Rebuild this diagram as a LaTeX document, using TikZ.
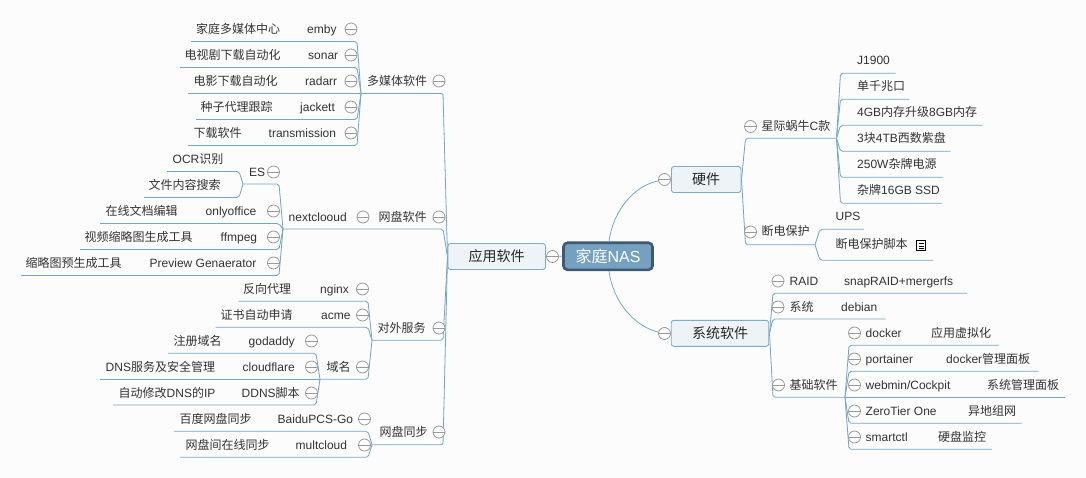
\documentclass[tikz,border=0pt]{standalone}
\usepackage{fontspec}
\setmainfont{Liberation Sans}
\newfontfamily\cjk{Noto Sans CJK SC}
\newcommand{\C}[1]{{\cjk #1}}
\definecolor{bgc}{HTML}{FCFCFC}
\definecolor{linec}{HTML}{74A6C8}
\definecolor{taperc}{HTML}{B4D0E2}
\definecolor{boxfill}{HTML}{EEF3F7}
\definecolor{boxline}{HTML}{7FAAC8}
\definecolor{rootfill}{HTML}{73A1BF}
\definecolor{rootline}{HTML}{3F5A70}
\definecolor{txtc}{HTML}{333333}
\definecolor{foldc}{HTML}{999999}
\usetikzlibrary{calc}
\tikzset{
 branch/.style={draw=linec,line width=0.8pt,rounded corners=2pt},
 taper/.style={fill=taperc,draw=none},
 curvelink/.style={draw=linec,line width=0.8pt},
 lbl/.style={inner sep=0pt,anchor=west,text=txtc,font=\fontsize{12}{12}\selectfont,text height=9pt,text depth=0pt},
 foldmark/.style={circle,draw=foldc,fill=white,line width=0.8pt,minimum size=12pt,inner sep=0pt,
   path picture={\draw[foldc,line width=0.8pt] (path picture bounding box.west) -- (path picture bounding box.east);}},
 mainbox/.style={draw=boxline,fill=boxfill,line width=0.9pt,rounded corners=2.5pt,inner sep=0pt,text=black!85,
   font=\fontsize{14}{14}\selectfont,text height=10.5pt,text depth=0pt,minimum height=26pt},
 rootbox/.style={draw=rootline,fill=rootfill,line width=2.6pt,rounded corners=4pt,inner sep=0pt,text=white,
   font=\fontsize{16}{16}\selectfont,text height=12pt,text depth=0pt,minimum height=27pt,minimum width=89pt},
 noteicon/.style={draw=black,line width=0.7pt,minimum width=8.5pt,minimum height=9.5pt,inner sep=0pt,
   path picture={\foreach \q in {0.3,0.55,0.8}{\draw[black,line width=0.5pt] ($(path picture bounding box.north west)!\q!(path picture bounding box.south west)+(1.8pt,0)$) -- ++(5pt,0);}}},
}
\newcommand{\topic}[5]{\coordinate (#1-far) at (#3,#5); \coordinate (#1-near) at (#4,#5);
 \fill[taper] (#1-near) -- ($(#2)+(0,-1.1)$) -- ($(#2)+(0,1.1)$) -- cycle;
 \draw[branch] (#1-far) -- (#1-near) -- (#2);}
\newcommand{\lab}[4]{\node[lbl] (#1) at (#2,#3) {#4};}
\newcommand{\fold}[3]{\node[foldmark] (#1) at (#2,#3) {};}
\begin{document}
\begin{tikzpicture}[x=1pt,y=-1pt]
\useasboundingbox (0,0) rectangle (1086,478);
\fill[bgc] (0,0) rectangle (1086,478);
% main boxes
\node[rootbox] (root) at (608,256.3) {\C{家庭}NAS};
\node[mainbox,minimum width=97.5pt] (app) at (496.7,256.5) {\C{应用软件}};
\node[mainbox,minimum width=69.5pt] (hw) at (706.2,179.5) {\C{硬件}};
\node[mainbox,minimum width=97.5pt] (sys) at (720,333.3) {\C{系统软件}};
\coordinate (appjoin) at (447.5,256.5);
\coordinate (hwjoin) at (741.5,179.5);
\coordinate (sysjoin) at (769.5,333.3);
\coordinate (hwend) at (659,180.7);
\coordinate (sysend) at (659,332.3);
% root links
\draw[curvelink] (app.east) -- (root.west);
\draw[curvelink] (root.north) ++(1,0) .. controls (613,210) and (635,185) .. (hwend) -- (hw.west);
\draw[curvelink] (root.south) ++(1,0) .. controls (613,302) and (635,327) .. (sysend) -- (sys.west);
% application branches
\topic{mm}{appjoin}{361}{443}{93.5}
\topic{disk}{appjoin}{283}{443}{229}
\topic{ext}{appjoin}{372}{443}{340.3}
\topic{sync}{appjoin}{372}{443}{444.7}
\topic{emby}{mm-far}{191}{357}{41.5}
\topic{sonar}{mm-far}{180}{357}{67.5}
\topic{radarr}{mm-far}{188}{357}{93.5}
\topic{jackett}{mm-far}{196}{357}{119.5}
\topic{trans}{mm-far}{188}{357}{145.5}
\topic{es}{disk-far}{243}{279}{184}
\topic{ocr}{es-far}{167}{239}{171.5}
\topic{search}{es-far}{144}{239}{197.5}
\topic{only}{disk-far}{100}{279}{223.5}
\topic{ff}{disk-far}{80}{279}{249.5}
\topic{prev}{disk-far}{21}{279}{275.5}
\topic{nginx}{ext-far}{238.5}{368}{301.3}
\topic{acme}{ext-far}{215.5}{368}{327.3}
\topic{dom}{ext-far}{320}{368}{379.3}
\topic{god}{dom-far}{168}{316}{353.3}
\topic{cf}{dom-far}{100}{316}{379.3}
\topic{ddns}{dom-far}{113}{316}{405}
\topic{baidu}{sync-far}{174}{368}{431.3}
\topic{mc}{sync-far}{180}{368}{457.3}
% hardware branches
\topic{nas}{hwjoin}{836.5}{745.5}{138.3}
\topic{ups}{hwjoin}{815}{745.5}{244.7}
\topic{j}{nas-far}{895.7}{840.5}{73.3}
\topic{gige}{nas-far}{909}{840.5}{99.3}
\topic{ram}{nas-far}{982.5}{840.5}{125.3}
\topic{hdd}{nas-far}{950.5}{840.5}{151.3}
\topic{psu}{nas-far}{943}{840.5}{177.3}
\topic{ssd}{nas-far}{942}{840.5}{203.3}
\topic{upsa}{ups-far}{864}{820}{229.3}
\topic{upsb}{ups-far}{933}{820}{260.3}
% system branches
\topic{raid}{sysjoin}{967}{773}{293.3}
\topic{os}{sysjoin}{885.5}{773}{319}
\topic{base}{sysjoin}{845}{773}{397.3}
\topic{dock}{base-far}{998.5}{849}{345.3}
\topic{port}{base-far}{1038.5}{849}{371.3}
\topic{web}{base-far}{1065}{849}{397.3}
\topic{zero}{base-far}{1021.5}{849}{423.3}
\topic{smart}{base-far}{992}{849}{449.3}
% labels: multimedia
\lab{t1}{367}{81}{\C{多媒体软件}} \fold{f1}{439}{81}
\lab{t2}{196}{29}{\C{家庭多媒体中心}} \lab{t3}{307}{29}{emby} \fold{f2}{351}{29}
\lab{t4}{184.5}{55}{\C{电视剧下载自动化}} \lab{t5}{308}{55}{sonar} \fold{f3}{351}{55}
\lab{t6}{193.5}{81}{\C{电影下载自动化}} \lab{t7}{305}{81}{radarr} \fold{f4}{351}{81}
\lab{t8}{200.5}{107}{\C{种子代理跟踪}} \lab{t9}{300}{107}{jackett} \fold{f5}{351}{107}
\lab{t10}{193.5}{133}{\C{下载软件}} \lab{t11}{268.5}{133}{transmission} \fold{f6}{351}{133}
% labels: cloud disk
\lab{t12}{378.5}{217}{\C{网盘软件}} \fold{f7}{439}{217}
\lab{t13}{288.5}{217}{nextclooud} \fold{f8}{363}{217}
\lab{t14}{249}{172}{ES} \fold{f9}{273.5}{172}
\lab{t15}{172.5}{159}{OCR\C{识别}}
\lab{t16}{148.5}{185}{\C{文件内容搜索}}
\lab{t17}{105.5}{211}{\C{在线文档编辑}} \lab{t18}{205.5}{211}{onlyoffice} \fold{f10}{273.5}{211}
\lab{t19}{84.5}{237}{\C{视频缩略图生成工具}} \lab{t20}{220.5}{237}{ffmpeg} \fold{f11}{273.5}{237}
\lab{t21}{25.5}{262.5}{\C{缩略图预生成工具}} \lab{t22}{149.5}{262.5}{Preview Genaerator} \fold{f12}{273.5}{263}
% labels: external services
\lab{t23}{377.5}{328}{\C{对外服务}} \fold{f13}{439}{328}
\lab{t24}{243}{289}{\C{反向代理}} \lab{t25}{320}{289}{nginx} \fold{f14}{362.5}{289}
\lab{t26}{220.5}{315}{\C{证书自动申请}} \lab{t27}{321}{315}{acme} \fold{f15}{362.5}{315}
\lab{t28}{326.5}{367}{\C{域名}} \fold{f16}{362.5}{367}
\lab{t29}{173.5}{341}{\C{注册域名}} \lab{t30}{248.5}{341}{godaddy} \fold{f17}{311.5}{341}
\lab{t31}{105.5}{367}{DNS\C{服务及安全管理}} \lab{t32}{242.5}{367}{cloudflare} \fold{f18}{311.5}{367}
\lab{t33}{118.5}{393}{\C{自动修改}DNS\C{的}IP} \lab{t34}{241.5}{393}{DDNS\C{脚本}} \fold{f19}{311.5}{393}
% labels: sync
\lab{t35}{379.5}{432}{\C{网盘同步}} \fold{f20}{439}{432}
\lab{t36}{179.5}{419}{\C{百度网盘同步}} \lab{t37}{277.5}{419}{BaiduPCS-Go} \fold{f21}{364.5}{419}
\lab{t38}{185.5}{445}{\C{网盘间在线同步}} \lab{t39}{295.5}{445}{multcloud} \fold{f22}{364.5}{445}
% labels: hardware
\lab{t40}{761.5}{126}{\C{星际蜗牛}C\C{款}} \fold{f23}{750.5}{126.5}
\lab{t41}{857}{60.5}{J1900}
\lab{t42}{857}{86.5}{\C{单千兆口}}
\lab{t43}{857}{112.5}{4GB\C{内存升级}8GB\C{内存}}
\lab{t44}{857}{138.5}{3\C{块}4TB\C{西数紫盘}}
\lab{t45}{857}{164.5}{250W\C{杂牌电源}}
\lab{t46}{857}{190.5}{\C{杂牌}16GB SSD}
\lab{t47}{761.5}{231}{\C{断电保护}} \fold{f24}{750.5}{232}
\lab{t48}{835.5}{216.5}{UPS}
\lab{t49}{835.5}{244.5}{\C{断电保护脚本}}
\node[noteicon] (note) at (921,245.5) {};
% labels: system
\lab{t50}{789.5}{281}{RAID} \lab{t51}{844}{281}{snapRAID+mergerfs} \fold{f25}{778}{281}
\lab{t52}{789.5}{307}{\C{系统}} \lab{t53}{841}{307}{debian} \fold{f26}{778}{307}
\lab{t54}{789.5}{385}{\C{基础软件}} \fold{f27}{778.5}{385}
\lab{t55}{865.5}{333}{docker} \lab{t56}{931}{333}{\C{应用虚拟化}} \fold{f28}{854.5}{333}
\lab{t57}{865.5}{359}{portainer} \lab{t58}{946}{359}{docker\C{管理面板}} \fold{f29}{854.5}{359}
\lab{t59}{865.5}{385}{webmin/Cockpit} \lab{t60}{987}{385}{\C{系统管理面板}} \fold{f30}{854.5}{385}
\lab{t61}{865.5}{411}{ZeroTier One} \lab{t62}{968}{411}{\C{异地组网}} \fold{f31}{854.5}{411}
\lab{t63}{865.5}{437}{smartctl} \lab{t64}{938}{437}{\C{硬盘监控}} \fold{f32}{854.5}{437}
% root-level fold marks
\fold{f33}{552.5}{256.5}
\fold{f34}{664.5}{179.5}
\fold{f35}{664.5}{333.5}
\end{tikzpicture}
\end{document}
